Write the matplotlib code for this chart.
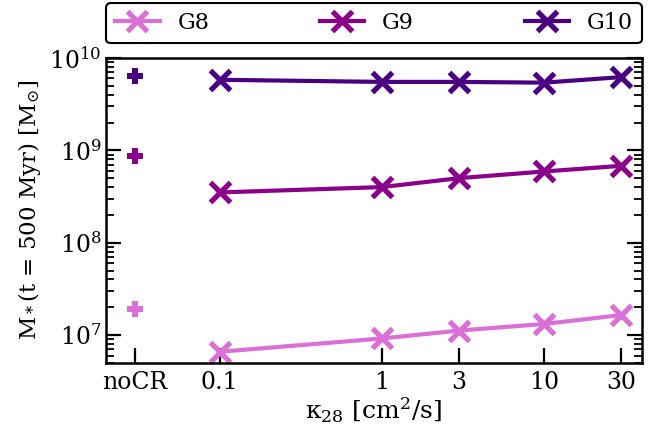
import matplotlib
matplotlib.use("Agg")
import matplotlib.pyplot as plt

plt.rcParams["font.family"] = "DejaVu Serif"
plt.rcParams["mathtext.fontset"] = "dejavuserif"

# diffusion coefficients (noCR run is drawn at a placeholder position)
kappa = [0.1, 1, 3, 10, 30]
nocr_pos = 0.03
tick_labels = ["noCR", "0.1", "1", "3", "10", "30"]

names = ["G8", "G9", "G10"]
colors = ["orchid", "darkmagenta", "indigo"]

# stellar mass at t = 500 Myr [Msun]
mstar_nocr = [1.9e7, 8.7e8, 6.4e9]
mstar_g8 = [6.6e6, 9.2e6, 1.12e7, 1.32e7, 1.65e7]
mstar_g9 = [3.5e8, 4.0e8, 5.0e8, 5.9e8, 6.8e8]
mstar_g10 = [5.8e9, 5.5e9, 5.5e9, 5.4e9, 6.2e9]
mstar = [mstar_g8, mstar_g9, mstar_g10]

fig = plt.figure(figsize=(6.72, 4.29), dpi=100)
ax = fig.add_axes([0.158, 0.154, 0.797, 0.711])

for name, col, vals, v0 in zip(names, colors, mstar, mstar_nocr):
    ax.plot(kappa, vals, "-x", color=col, lw=3, ms=14, mew=3.8, label=name)
    ax.plot([nocr_pos], [v0], "P", color=col, ms=11, mew=0)

ax.set_xscale("log")
ax.set_yscale("log")
ax.set_xlim(0.02, 40)
ax.set_ylim(5e6, 1e10)

ax.set_xticks([nocr_pos] + kappa)
ax.set_xticklabels(tick_labels)
ax.xaxis.set_minor_locator(matplotlib.ticker.NullLocator())

ax.tick_params(axis="x", which="major", direction="in", length=11, width=1.6,
               labelsize=17, pad=6, top=False)
ax.tick_params(axis="y", which="major", direction="in", length=11, width=1.6,
               labelsize=17, right=True)
ax.tick_params(axis="y", which="minor", direction="in", length=6, width=1.3,
               right=True)
for sp in ax.spines.values():
    sp.set_linewidth(1.8)

ax.set_xlabel("κ$_{28}$ [cm$^2$/s]", fontsize=18, labelpad=1)
ax.set_ylabel(r"M$_*$(t = 500 Myr) [M$_{\odot}$]", fontsize=16.5, labelpad=4)

leg = ax.legend(loc="lower left", bbox_to_anchor=(0.0, 1.049, 1.0, 0.13), ncol=3,
                frameon=True, fancybox=True, mode="expand",
                borderaxespad=0.0, handlelength=2.0, fontsize=16)
leg.get_frame().set_edgecolor("black")
leg.get_frame().set_linewidth(1.5)
leg.get_frame().set_alpha(1)

fig.savefig("out.png", dpi=100)
